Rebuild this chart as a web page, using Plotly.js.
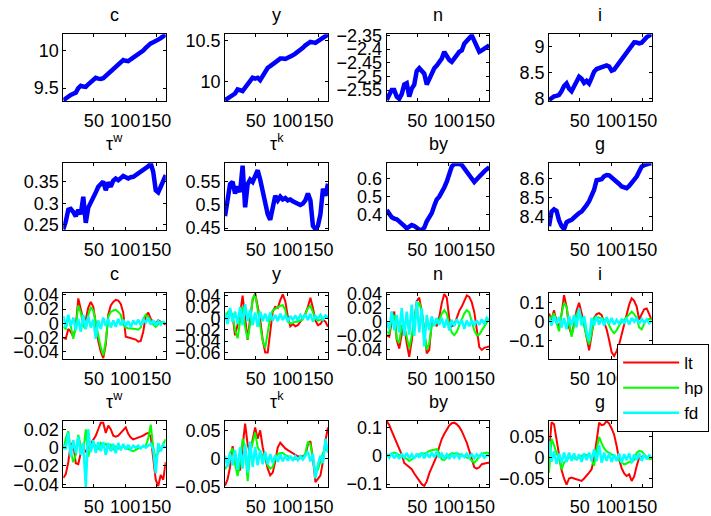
<!DOCTYPE html>
<html>
<head>
<meta charset="utf-8">
<script src="https://cdn.plot.ly/plotly-3.0.1.min.js"></script>
<style>
  html, body { margin: 0; padding: 0; background: #fff; }
  #chart { width: 711px; height: 516px; }
</style>
</head>
<body>
<div id="chart"></div>
<script>
// sample periods (every 4th quarter)
var xs = [1,5,9,13,17,21,25,29,33,37,41,45,49,53,57,61,65,69,73,77,81,85,89,93,97,101,105,109,113,117,121,125,129,133,137,141,145,149,153,157,161,165];

// levels (top two rows)
var levelC  = [9.34,9.37,9.395,9.41,9.425,9.44,9.50,9.53,9.52,9.515,9.55,9.58,9.61,9.635,9.625,9.62,9.63,9.66,9.70,9.72,9.76,9.79,9.82,9.85,9.87,9.86,9.855,9.88,9.90,9.92,9.94,9.96,9.995,10.03,10.07,10.09,10.105,10.115,10.14,10.16,10.185,10.21];
var levelY  = [9.78,9.80,9.82,9.83,9.86,9.91,9.90,9.89,9.93,9.97,10.03,10.05,10.04,10.05,10.02,10.08,10.14,10.17,10.19,10.21,10.24,10.26,10.28,10.28,10.275,10.29,10.30,10.32,10.34,10.36,10.38,10.41,10.44,10.46,10.48,10.475,10.47,10.49,10.51,10.53,10.55,10.57];
var levelN  = [-2.586,-2.57,-2.55,-2.55,-2.574,-2.582,-2.565,-2.53,-2.525,-2.574,-2.545,-2.53,-2.48,-2.47,-2.478,-2.49,-2.53,-2.51,-2.483,-2.47,-2.46,-2.445,-2.435,-2.41,-2.425,-2.44,-2.447,-2.435,-2.42,-2.41,-2.405,-2.38,-2.37,-2.362,-2.35,-2.37,-2.395,-2.41,-2.405,-2.398,-2.39,-2.386];
var levelI  = [7.97,8.01,8.04,8.05,8.07,8.14,8.24,8.29,8.19,8.14,8.23,8.33,8.42,8.38,8.30,8.34,8.29,8.40,8.52,8.57,8.59,8.605,8.61,8.64,8.62,8.54,8.56,8.63,8.69,8.75,8.81,8.88,8.96,9.05,9.09,9.085,9.07,9.08,9.14,9.19,9.22,9.245];
var levelTw = [0.24,0.258,0.285,0.287,0.28,0.27,0.285,0.275,0.315,0.255,0.29,0.30,0.315,0.325,0.338,0.345,0.35,0.33,0.348,0.338,0.352,0.357,0.353,0.358,0.363,0.36,0.357,0.36,0.361,0.365,0.369,0.371,0.375,0.38,0.385,0.392,0.372,0.33,0.325,0.338,0.35,0.365];
var levelTk = [0.476,0.51,0.545,0.55,0.525,0.54,0.528,0.585,0.495,0.545,0.555,0.55,0.565,0.575,0.555,0.53,0.505,0.48,0.468,0.49,0.52,0.51,0.518,0.512,0.515,0.51,0.512,0.508,0.505,0.504,0.50,0.503,0.51,0.525,0.51,0.455,0.448,0.455,0.48,0.535,0.52,0.546];
var levelBy = [0.427,0.405,0.387,0.38,0.376,0.365,0.355,0.34,0.327,0.335,0.345,0.34,0.328,0.32,0.318,0.33,0.365,0.39,0.41,0.45,0.485,0.50,0.52,0.55,0.582,0.635,0.665,0.678,0.682,0.68,0.673,0.655,0.636,0.612,0.591,0.58,0.595,0.612,0.626,0.638,0.65,0.66];
var levelG  = [8.35,8.426,8.438,8.43,8.38,8.35,8.335,8.37,8.378,8.383,8.395,8.41,8.418,8.426,8.44,8.46,8.48,8.504,8.54,8.59,8.592,8.595,8.61,8.617,8.615,8.605,8.595,8.585,8.57,8.557,8.55,8.548,8.56,8.574,8.59,8.609,8.635,8.661,8.668,8.675,8.677,8.678];

// cycles (bottom two rows): lt = linear trend, hp = HP filter, fd = first difference
var ltC  = [-0.021,-0.022,-0.008,-0.012,-0.019,-0.005,0.035,0.022,0.005,0.005,0.022,0.03,0.023,0.0,-0.025,-0.04,-0.049,-0.03,0.012,0.025,0.03,0.033,0.032,0.027,0.015,-0.019,-0.02,-0.021,-0.021,-0.023,-0.026,-0.025,-0.012,0.01,0.015,0.006,0.002,0.0,0.004,0.002,0.001,-0.002];
var hpC  = [-0.005,-0.008,0.008,-0.004,-0.022,-0.005,0.025,0.015,-0.004,-0.008,0.012,0.022,0.018,0.002,-0.014,-0.034,-0.045,-0.025,0.009,0.016,0.018,0.019,0.016,0.012,-0.002,-0.006,-0.007,-0.007,-0.007,-0.008,-0.009,-0.006,0.006,0.012,0.009,0.003,-0.002,-0.005,-0.002,0.002,0.001,0.0];
var fdC  = [0.01,-0.006,0.012,-0.004,0.008,-0.01,0.006,-0.012,0.012,-0.008,0.01,-0.006,0.005,-0.022,0.004,-0.008,0.008,-0.004,0.006,-0.006,0.004,-0.005,0.006,-0.003,0.005,-0.004,0.003,-0.006,0.004,-0.002,0.005,-0.003,0.006,0.001,0.007,-0.002,0.004,-0.003,0.003,-0.002,0.002,0.0];

var ltY  = [0.003,-0.004,0.01,0.005,-0.03,-0.01,0.008,0.04,0.003,-0.038,0.0,0.032,0.044,0.02,-0.002,-0.038,-0.06,-0.06,-0.02,0.012,0.02,0.018,0.032,0.042,0.03,0.003,-0.014,-0.01,-0.014,-0.012,-0.006,0.002,0.008,0.02,0.036,0.018,-0.004,-0.012,-0.01,-0.003,-0.006,-0.015];
var hpY  = [0.0,0.01,0.015,0.005,-0.02,-0.035,-0.005,0.02,-0.015,-0.037,-0.01,0.035,0.042,0.015,-0.008,-0.04,-0.052,-0.025,0.002,0.014,0.017,0.02,0.022,0.023,0.015,-0.006,-0.009,-0.008,-0.006,-0.006,-0.004,-0.002,0.008,0.018,0.022,0.012,0.0,-0.004,-0.003,-0.001,0.003,0.0];
var fdY  = [0.01,-0.01,0.018,-0.006,0.012,-0.01,0.02,-0.012,0.025,-0.005,0.015,-0.012,0.01,-0.015,0.012,-0.005,0.008,-0.006,0.01,-0.004,0.006,-0.005,0.008,-0.003,0.006,-0.006,0.004,-0.003,0.005,-0.004,0.006,0.0,0.007,-0.003,0.008,-0.006,0.004,0.0,0.006,-0.002,0.005,0.002];

var ltN  = [-0.019,-0.021,0.0,0.015,-0.026,-0.038,-0.018,-0.005,-0.031,-0.05,-0.027,0.0,0.03,0.035,0.015,-0.012,-0.045,-0.04,0.0,-0.002,-0.006,0.007,0.027,0.04,0.035,0.005,-0.006,-0.004,0.007,0.016,0.022,0.03,0.038,0.036,0.028,0.014,-0.015,-0.036,-0.04,-0.037,-0.036,-0.035];
var hpN  = [-0.014,-0.016,0.005,0.01,-0.024,-0.03,-0.005,-0.005,-0.021,-0.038,-0.02,0.005,0.021,0.028,0.015,-0.015,-0.04,-0.03,-0.005,-0.003,-0.002,0.003,0.012,0.017,0.012,-0.005,-0.015,-0.019,-0.014,-0.005,0.005,0.012,0.017,0.014,0.0,-0.012,-0.019,-0.018,-0.012,-0.006,0.0,0.005];
var fdN  = [0.0,-0.01,0.015,-0.012,0.01,-0.015,0.02,-0.02,0.015,-0.018,0.025,-0.02,0.03,-0.015,0.02,-0.035,0.01,-0.012,0.008,-0.006,0.006,-0.004,0.006,-0.008,0.004,-0.012,0.003,-0.006,0.004,-0.004,0.003,-0.01,0.002,-0.006,0.003,-0.005,0.002,-0.004,0.004,-0.003,0.006,0.002];

var ltI  = [0.044,0.01,0.06,0.0,-0.03,0.04,0.14,0.08,-0.03,-0.07,-0.01,0.06,0.10,0.05,-0.01,-0.08,-0.15,-0.07,0.02,0.04,0.045,0.035,0.0,-0.04,-0.096,-0.16,-0.18,-0.155,-0.12,-0.07,-0.02,0.03,0.09,0.123,0.11,0.08,0.01,0.04,0.065,0.07,0.04,0.01];
var hpI  = [0.026,0.02,0.044,-0.01,-0.05,0.04,0.10,0.08,0.0,-0.079,-0.02,0.04,0.06,0.02,-0.02,-0.08,-0.12,-0.06,0.02,0.026,0.02,0.018,0.012,0.01,-0.02,-0.045,-0.06,-0.045,-0.02,0.0,0.01,0.026,0.04,0.053,0.04,0.02,-0.03,-0.04,-0.01,0.01,0.015,0.008];
var fdI  = [0.02,-0.02,0.03,-0.01,0.025,-0.03,0.02,-0.04,0.03,-0.02,0.035,-0.03,0.07,-0.02,0.03,-0.05,-0.1,0.02,-0.02,0.03,-0.015,0.02,-0.02,0.025,-0.01,0.02,-0.015,0.01,-0.01,0.015,-0.01,0.02,-0.015,0.02,0.0,0.02,-0.01,0.015,-0.005,0.012,-0.008,0.005];

var ltTw = [-0.033,-0.029,-0.016,0.004,0.005,-0.017,-0.018,-0.006,0.0,-0.005,0.0,0.004,0.009,0.013,0.02,0.027,0.027,0.016,0.024,0.02,0.013,0.012,0.013,0.016,0.02,0.022,0.015,0.011,0.009,0.01,0.011,0.012,0.013,0.015,0.016,0.012,-0.01,-0.035,-0.042,-0.03,-0.035,-0.016];
var hpTw = [-0.002,0.01,0.018,-0.004,-0.016,-0.008,0.014,0.002,-0.005,0.02,-0.01,0.002,0.004,0.002,-0.002,0.005,0.002,0.004,0.0,0.003,-0.002,0.001,-0.001,0.0,0.001,0.0,-0.002,-0.003,-0.004,-0.002,-0.001,0.0,0.001,0.002,0.01,0.025,0.0,-0.012,-0.005,-0.002,0.004,0.009];
var fdTw = [0.003,-0.002,0.016,-0.01,0.008,-0.006,0.012,-0.008,0.005,-0.043,0.02,-0.005,0.008,-0.006,0.006,-0.004,0.006,-0.008,0.005,-0.004,0.004,-0.006,0.005,-0.003,0.004,-0.002,0.003,-0.002,0.002,0.0,0.002,-0.001,0.002,0.0,0.002,0.004,-0.002,-0.028,0.005,-0.004,0.003,0.0];

var ltTk = [-0.048,-0.037,-0.015,0.022,0.0,-0.022,-0.02,0.022,0.062,0.025,0.01,0.034,0.055,0.035,0.05,0.02,0.0,-0.018,-0.03,-0.025,-0.005,0.02,0.028,0.022,0.018,0.015,0.012,0.01,0.006,0.004,0.003,0.004,0.006,0.025,0.031,0.0,-0.042,-0.036,-0.03,-0.005,0.032,0.055];
var hpTk = [-0.019,-0.01,0.01,0.018,-0.01,-0.031,-0.008,0.035,0.02,-0.04,0.01,0.03,0.046,0.02,0.012,0.005,0.002,-0.012,-0.018,-0.015,0.0,0.008,0.01,0.01,0.006,0.004,0.002,0.0,-0.001,-0.001,0.0,0.001,0.01,0.03,0.025,0.0,-0.025,-0.02,-0.005,0.01,0.018,0.012];
var fdTk = [0.005,-0.015,0.01,-0.012,0.015,-0.02,0.02,-0.018,0.025,-0.025,0.03,-0.015,0.02,-0.012,0.015,-0.01,0.012,-0.01,0.008,-0.008,0.006,-0.006,0.008,-0.005,0.006,-0.004,0.005,-0.004,0.004,-0.003,0.004,-0.002,0.005,0.012,-0.005,0.008,-0.035,-0.01,0.005,-0.008,0.035,0.01];

var ltBy = [0.124,0.11,0.088,0.068,0.047,0.028,0.005,-0.025,-0.033,-0.038,-0.047,-0.062,-0.075,-0.088,-0.1,-0.106,-0.09,-0.062,-0.04,-0.02,0.0,0.033,0.06,0.078,0.094,0.108,0.116,0.118,0.112,0.103,0.088,0.068,0.047,0.018,-0.01,-0.04,-0.045,-0.04,-0.029,-0.026,-0.025,-0.024];
var hpBy = [0.0,0.005,0.01,0.012,0.008,0.004,0.0,-0.004,-0.01,-0.018,-0.012,-0.004,0.002,0.006,0.01,0.008,0.012,0.018,0.02,0.022,0.024,0.01,-0.012,-0.015,-0.005,0.004,0.01,0.008,0.01,0.006,0.002,-0.004,-0.006,-0.008,-0.016,-0.024,-0.015,0.0,0.008,0.01,0.012,0.01];
var fdBy = [0.008,-0.006,0.01,-0.008,0.006,-0.01,0.008,-0.006,0.01,-0.008,0.006,-0.01,0.008,-0.006,0.012,-0.008,0.01,-0.006,0.012,-0.004,0.015,-0.006,0.008,-0.008,0.006,-0.01,0.006,-0.006,0.008,-0.008,0.006,-0.004,0.008,-0.006,0.006,-0.008,0.006,-0.004,0.008,-0.006,0.004,0.0];

var ltG  = [0.012,0.085,0.08,0.04,0.01,-0.03,-0.05,-0.065,-0.05,-0.048,-0.05,-0.052,-0.055,-0.056,-0.05,-0.044,-0.036,-0.028,0.0,0.04,0.084,0.078,0.08,0.088,0.082,0.07,0.055,0.028,-0.005,-0.025,-0.038,-0.044,-0.04,-0.056,-0.045,-0.02,0.0,0.002,0.004,0.0,-0.002,-0.004];
var hpG  = [-0.036,0.045,0.03,0.01,0.0,-0.028,-0.012,-0.005,0.0,0.002,-0.002,-0.004,0.0,0.004,0.008,0.006,0.008,-0.005,-0.02,0.02,0.05,0.035,0.022,0.015,0.012,0.008,0.004,0.0,-0.006,-0.012,-0.016,-0.014,-0.01,-0.012,-0.005,0.012,0.016,0.015,0.008,0.002,-0.002,-0.004];
var fdG  = [0.04,-0.01,0.015,-0.015,0.01,-0.012,0.012,-0.01,0.012,-0.008,0.01,-0.006,0.008,-0.01,0.01,-0.006,0.012,-0.008,0.02,-0.008,0.03,-0.012,0.012,-0.008,0.01,-0.01,0.008,-0.008,0.01,-0.012,0.008,-0.006,0.01,-0.012,0.008,-0.006,0.01,-0.008,0.008,-0.004,0.006,0.0];

var panelTitles = ['c','y','n','i','\u03c4<sup>w</sup>','\u03c4<sup>k</sup>','by','g'];
var levelSeries = [levelC, levelY, levelN, levelI, levelTw, levelTk, levelBy, levelG];
var cycleSeries = [
  [ltC, hpC, fdC], [ltY, hpY, fdY], [ltN, hpN, fdN], [ltI, hpI, fdI],
  [ltTw, hpTw, fdTw], [ltTk, hpTk, fdTk], [ltBy, hpBy, fdBy], [ltG, hpG, fdG]
];
var cycleNames = ['lt', 'hp', 'fd'];

var xTicks = [50, 100, 150];
var yTicks = [
  [9.5, 10], [10, 10.5], [-2.55, -2.5, -2.45, -2.4, -2.35], [8, 8.5, 9],
  [0.25, 0.3, 0.35], [0.45, 0.5, 0.55], [0.4, 0.5, 0.6], [8.4, 8.5, 8.6],
  [-0.04, -0.02, 0, 0.02, 0.04], [-0.06, -0.04, -0.02, 0, 0.02, 0.04], [-0.04, -0.02, 0, 0.02, 0.04], [-0.1, 0, 0.1],
  [-0.04, -0.02, 0, 0.02], [-0.05, 0, 0.05], [-0.1, 0, 0.1], [-0.05, 0, 0.05]
];

// axis setup
var yRanges = [
  [9.33, 10.21], [9.77, 10.572], [-2.59, -2.346], [7.95, 9.245],
  [0.2385, 0.392], [0.446, 0.59], [0.318, 0.682], [8.33, 8.678],
  [-0.0503, 0.043], [-0.0714, 0.045], [-0.053, 0.042], [-0.196, 0.153],
  [-0.043, 0.029], [-0.0505, 0.0666], [-0.11, 0.124], [-0.0705, 0.088]
];
var colDomains = [[0.0890, 0.2331], [0.3165, 0.4613], [0.5439, 0.6882], [0.7722, 0.9166]];
var rowDomains = [[0.8043, 0.9335], [0.5543, 0.6835], [0.3043, 0.4328], [0.0562, 0.1841]];
var cycleColors = ['#ff0000', '#00ff00', '#00ffff'];
var fontFamily = 'Liberation Sans, Arial, Helvetica, sans-serif';

function fmt(v) {
  return String(v).replace('-', '\u2212');
}

var data = [];
var layout = {
  width: 711,
  height: 516,
  margin: {l: 0, r: 0, t: 0, b: 0, pad: 0},
  paper_bgcolor: '#ffffff',
  plot_bgcolor: '#ffffff',
  font: {family: fontFamily, size: 18, color: '#000000'},
  showlegend: true,
  legend: {
    x: 0.868, y: 0.3333, xanchor: 'left', yanchor: 'top',
    bgcolor: '#ffffff', bordercolor: '#000000', borderwidth: 1,
    font: {family: fontFamily, size: 17, color: '#000000'},
    itemwidth: 56
  },
  annotations: []
};

for (var k = 0; k < 16; k++) {
  var row = Math.floor(k / 4), col = k % 4;
  var sfx = k === 0 ? '' : String(k + 1);
  var xa = 'x' + sfx, ya = 'y' + sfx;

  if (row < 2) {
    data.push({
      x: xs, y: levelSeries[k], xaxis: xa, yaxis: ya,
      type: 'scatter', mode: 'lines', showlegend: false,
      line: {color: '#0000ff', width: 4.5}
    });
  } else {
    var set = cycleSeries[k - 8];
    for (var s = 0; s < 3; s++) {
      data.push({
        x: xs, y: set[s], xaxis: xa, yaxis: ya,
        type: 'scatter', mode: 'lines', name: cycleNames[s],
        showlegend: k === 8,
        line: {color: cycleColors[s], width: s === 2 ? 2.5 : 2}
      });
    }
  }

  var axisStyle = {
    showline: true, linecolor: '#000000', linewidth: 1, mirror: 'ticks',
    ticks: 'inside', ticklen: 3, tickcolor: '#000000', tickwidth: 1,
    showgrid: false, zeroline: false, fixedrange: true, tickangle: 0,
    tickfont: {family: fontFamily, size: 18, color: '#000000'}
  };

  layout['xaxis' + sfx] = Object.assign({}, axisStyle, {
    domain: colDomains[col], anchor: ya, range: [1, 165],
    tickmode: 'array', tickvals: xTicks, ticktext: xTicks.map(fmt),
    ticklabelstandoff: 3
  });
  layout['yaxis' + sfx] = Object.assign({}, axisStyle, {
    domain: rowDomains[row], anchor: xa, range: yRanges[k],
    tickmode: 'array', tickvals: yTicks[k], ticktext: yTicks[k].map(fmt)
  });

  layout.annotations.push({
    text: panelTitles[k % 8],
    xref: 'paper', yref: 'paper',
    x: (colDomains[col][0] + colDomains[col][1]) / 2,
    y: rowDomains[row][1] + 0.0136,
    xanchor: 'center', yanchor: 'bottom', showarrow: false,
    font: {family: fontFamily, size: 18, color: '#000000'}
  });
}

Plotly.newPlot('chart', data, layout, {displayModeBar: false, staticPlot: true});
</script>
</body>
</html>
